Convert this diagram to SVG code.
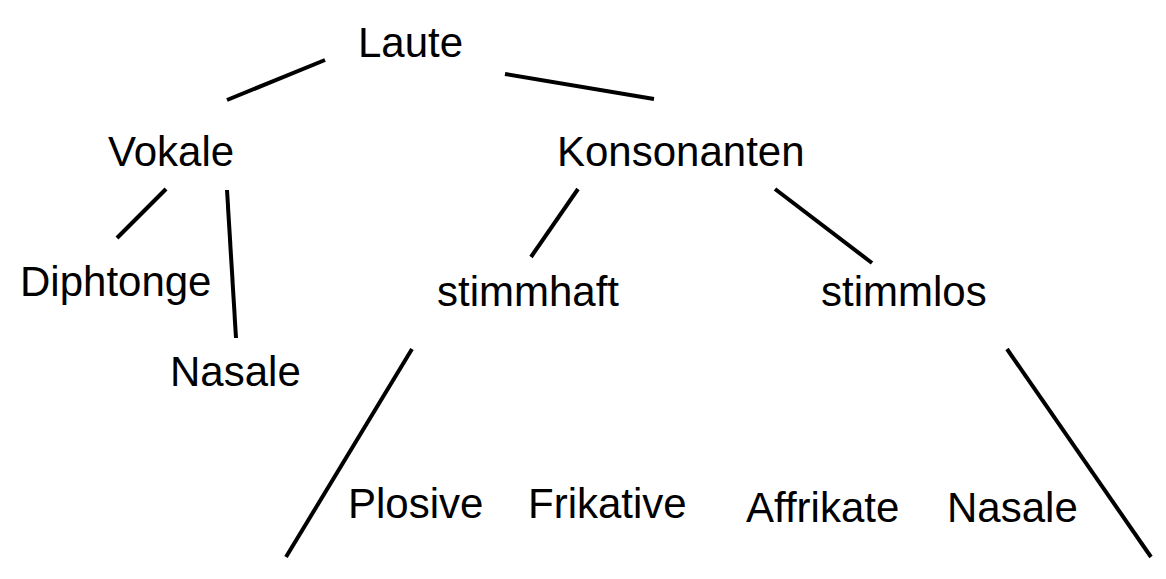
<svg xmlns="http://www.w3.org/2000/svg" width="1166" height="579" viewBox="0 0 1166 579">
<style>
text{font-family:"Liberation Sans",Arial,sans-serif;font-size:42px;fill:#000}
line{stroke:#000;stroke-width:4}
</style>
<rect width="1166" height="579" fill="#fff"/>
<g id="connectors">
<line x1="227" y1="100" x2="325" y2="60"/>
<line x1="505" y1="74" x2="654" y2="99"/>
<line x1="166" y1="189" x2="117" y2="238"/>
<line x1="227" y1="190" x2="236" y2="338"/>
<line x1="578" y1="189" x2="531" y2="257"/>
<line x1="775" y1="189" x2="872" y2="263"/>
<line x1="412" y1="349" x2="286" y2="557"/>
<line x1="1007" y1="349" x2="1151" y2="557"/>
</g>
<g id="laute"><text x="358" y="57">Laute</text></g>
<g id="vokale"><text x="108" y="166">Vokale</text></g>
<g id="konsonanten"><text x="557" y="166">Konsonanten</text></g>
<g id="diphtonge"><text x="20" y="296">Diphtonge</text></g>
<g id="nasale1"><text x="170" y="386">Nasale</text></g>
<g id="stimmhaft"><text x="437" y="306">stimmhaft</text></g>
<g id="stimmlos"><text x="821" y="306">stimmlos</text></g>
<g id="plosive"><text x="348" y="518">Plosive</text></g>
<g id="frikative"><text x="528" y="518">Frikative</text></g>
<g id="affrikate"><text x="746" y="522">Affrikate</text></g>
<g id="nasale2"><text x="947" y="522">Nasale</text></g>
</svg>
